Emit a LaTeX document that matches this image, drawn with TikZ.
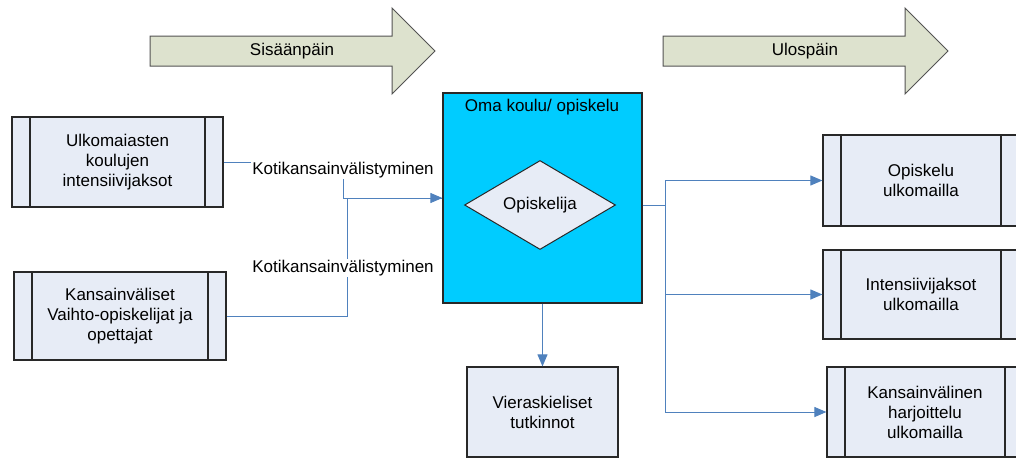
\documentclass[tikz,border=0pt]{standalone}
\usepackage{fontspec}
\setmainfont{Liberation Sans}
\usetikzlibrary{shapes.geometric,arrows.meta}
\definecolor{boxfill}{RGB}{231,236,246}
\definecolor{connblue}{RGB}{79,129,189}
\definecolor{mainfill}{RGB}{0,204,255}
\definecolor{arrowfill}{RGB}{221,226,206}
\definecolor{edgecol}{RGB}{40,40,40}
\begin{document}
\begin{tikzpicture}[x=1pt,y=-1pt,
 every node/.style={font=\fontsize{17}{20}\selectfont, align=center},
 plainbox/.style={draw=edgecol, line width=1.2pt, fill=boxfill, inner sep=0, rectangle},
 procbox/.style={plainbox, path picture={\draw[edgecol, line width=1.2pt]
   ([xshift=18pt]path picture bounding box.south west) -- ([xshift=18pt]path picture bounding box.north west)
   ([xshift=-18pt]path picture bounding box.south east) -- ([xshift=-18pt]path picture bounding box.north east);}},
 connline/.style={draw=connblue, line width=1pt},
 arr/.style={connline, -{Triangle[length=12pt,width=10pt]}},
 bigarrow/.style={draw=edgecol!80, line width=1pt, fill=arrowfill},
 lbl/.style={fill=white, inner sep=1pt}]
\useasboundingbox (0,0) rectangle (1016,459);
\clip (0,0) rectangle (1016,459);

% big arrows
\draw[bigarrow] (150,36) -- (392,36) -- (392,8) -- (435,51) -- (392,94) -- (392,66) -- (150,66) -- cycle;
\node (sis) at (292,51) {Sisäänpäin};
\draw[bigarrow] (663,36) -- (905,36) -- (905,8) -- (948,51) -- (905,94) -- (905,66) -- (663,66) -- cycle;
\node (ulos) at (805,51) {Ulospäin};

% boxes
\node[procbox, minimum width=211pt, minimum height=90pt] (ulk) at (117.5,162) {Ulkomaiasten\\koulujen\\intensiivijaksot};
\node[procbox, minimum width=212pt, minimum height=88pt] (vaihto) at (120,316) {Kansainväliset\\Vaihto-opiskelijat ja\\opettajat};
\node[draw=edgecol, line width=1.2pt, fill=mainfill, minimum width=199pt, minimum height=210pt, inner sep=0] (oma) at (542.5,198) {};
\node (omat) at (542,107) {Oma koulu/ opiskelu};
\node[diamond, draw=edgecol, line width=1pt, fill=boxfill, minimum width=151pt, minimum height=89pt, inner sep=0, aspect=1.7] (opisk) at (540,205) {Opiskelija};
\node[procbox, minimum width=196pt, minimum height=91pt] (r1) at (921,180.5) {Opiskelu\\ulkomailla};
\node[procbox, minimum width=196pt, minimum height=89pt] (r2) at (921,294.5) {Intensiivijaksot\\ulkomailla};
\node[procbox, minimum width=196pt, minimum height=90pt] (r3) at (925,412) {Kansainvälinen\\harjoittelu\\ulkomailla};
\node[plainbox, minimum width=151pt, minimum height=90pt] (vier) at (542.5,412) {Vieraskieliset\\tutkinnot};

% connectors in
\coordinate (a1) at (343,198);
\coordinate (a2) at (347,198);
\draw[connline] (vaihto.east) -| (a2) -- (a2 -| oma.west);
\draw[arr] (ulk.east) -| (a1) -- (a1 -| oma.west);
\node[lbl] (k1) at (343,170) {Kotikansainvälistyminen};
\node[lbl] (k2) at (343,268) {Kotikansainvälistyminen};

% connectors out
\coordinate (b) at (665,205);
\draw[connline] (oma.east |- b) -- (b);
\draw[arr] (b) |- (r1.west);
\draw[arr] (b) |- (r2.west);
\draw[arr] (b) |- (r3.west);
\draw[arr] (oma.south) -- (vier.north);
\end{tikzpicture}
\end{document}
